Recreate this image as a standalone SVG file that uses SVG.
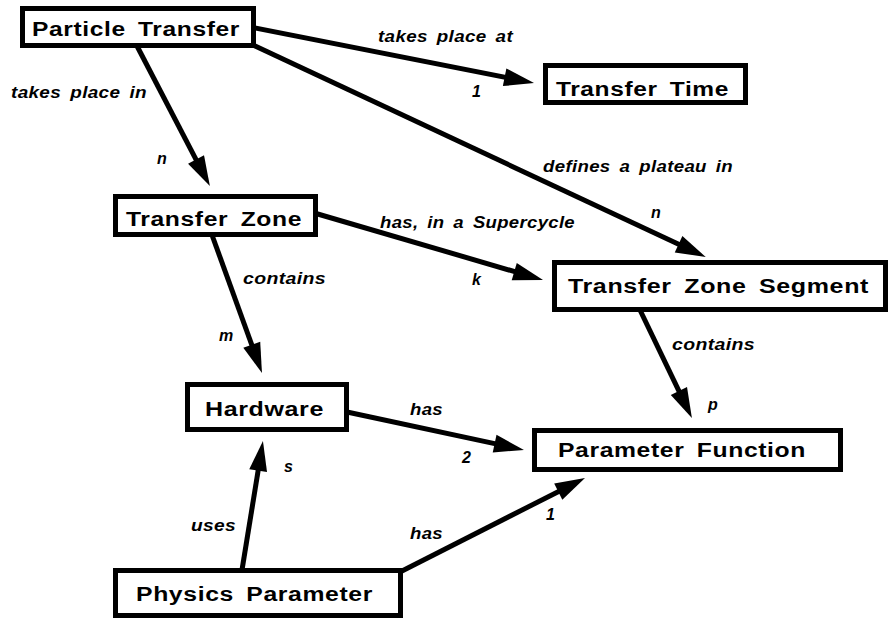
<svg xmlns="http://www.w3.org/2000/svg" width="889" height="619" viewBox="0 0 889 619">
  <defs>
    <style>
      .box { fill: #fff; stroke: #000; stroke-width: 5; }
      .name { font-family: "Liberation Sans", Arial, sans-serif; font-weight: bold; font-size: 20px; letter-spacing: 0.5px; word-spacing: 4px; fill: #000; }
      .edge { fill: none; stroke: #000; stroke-width: 5; marker-end: url(#head); }
      .lbl { font-family: "Liberation Sans", Arial, sans-serif; font-weight: bold; font-style: italic; font-size: 16px; letter-spacing: 0.3px; word-spacing: 3px; fill: #000; }
    </style>
    <!-- solid triangular head: 30px long, 18px wide at stroke-width 5 -->
    <marker id="head" markerUnits="strokeWidth" markerWidth="6" markerHeight="3.6" refX="1.2" refY="1.8" orient="auto" overflow="visible">
      <path d="M0,0 L6,1.8 L0,3.6 z" fill="#000"/>
    </marker>
  </defs>
  <rect width="889" height="619" fill="#fff"/>

  <g id="connectors">
    <!-- Particle Transfer -> Transfer Zone -->
    <line class="edge" x1="137" y1="46" x2="198.8" y2="164.8"/>
    <!-- Particle Transfer -> Transfer Time -->
    <line class="edge" x1="250" y1="27" x2="510.5" y2="78.4"/>
    <!-- Particle Transfer -> Transfer Zone Segment -->
    <line class="edge" x1="253" y1="45" x2="684" y2="246.8"/>
    <!-- Transfer Zone -> Transfer Zone Segment -->
    <line class="edge" x1="316" y1="213.5" x2="520" y2="273.2"/>
    <!-- Transfer Zone -> Hardware -->
    <line class="edge" x1="212" y1="235" x2="253.8" y2="350.4"/>
    <!-- Transfer Zone Segment -> Parameter Function -->
    <line class="edge" x1="640" y1="310" x2="681.5" y2="396.4"/>
    <!-- Hardware -> Parameter Function -->
    <line class="edge" x1="347" y1="412" x2="500.5" y2="444.9"/>
    <!-- Physics Parameter -> Hardware -->
    <line class="edge" x1="242" y1="570" x2="259.1" y2="464.7"/>
    <!-- Physics Parameter -> Parameter Function -->
    <line class="edge" x1="401" y1="571.5" x2="563.6" y2="488.9"/>

    <text class="lbl" x="11" y="98" textLength="136" lengthAdjust="spacingAndGlyphs">takes place in</text>
    <text class="lbl" x="157" y="164">n</text>
    <text class="lbl" x="378" y="42" textLength="135" lengthAdjust="spacingAndGlyphs">takes place at</text>
    <text class="lbl" x="472" y="97">1</text>
    <text class="lbl" x="543" y="172" textLength="190" lengthAdjust="spacingAndGlyphs">defines a plateau in</text>
    <text class="lbl" x="651" y="218">n</text>
    <text class="lbl" x="380" y="228" textLength="195" lengthAdjust="spacingAndGlyphs">has, in a Supercycle</text>
    <text class="lbl" x="472" y="285">k</text>
    <text class="lbl" x="243" y="284" textLength="83" lengthAdjust="spacingAndGlyphs">contains</text>
    <text class="lbl" x="219" y="341">m</text>
    <text class="lbl" x="672" y="350" textLength="83" lengthAdjust="spacingAndGlyphs">contains</text>
    <text class="lbl" x="708" y="410">p</text>
    <text class="lbl" x="410" y="415" textLength="33" lengthAdjust="spacingAndGlyphs">has</text>
    <text class="lbl" x="462" y="463">2</text>
    <text class="lbl" x="191" y="531" textLength="45" lengthAdjust="spacingAndGlyphs">uses</text>
    <text class="lbl" x="284" y="472">s</text>
    <text class="lbl" x="410" y="539" textLength="33" lengthAdjust="spacingAndGlyphs">has</text>
    <text class="lbl" x="546" y="520">1</text>
  </g>

  <g id="particle-transfer">
    <rect class="box" x="22.5" y="8.5" width="231" height="37"/>
    <text class="name" x="32" y="36" textLength="208" lengthAdjust="spacingAndGlyphs">Particle Transfer</text>
  </g>
  <g id="transfer-time">
    <rect class="box" x="545.5" y="65.5" width="200" height="37"/>
    <text class="name" x="556" y="95.5" textLength="173" lengthAdjust="spacingAndGlyphs">Transfer Time</text>
  </g>
  <g id="transfer-zone">
    <rect class="box" x="115.5" y="196.5" width="200" height="38"/>
    <text class="name" x="126" y="226" textLength="176" lengthAdjust="spacingAndGlyphs">Transfer Zone</text>
  </g>
  <g id="transfer-zone-segment">
    <rect class="box" x="554.5" y="262.5" width="331" height="47"/>
    <text class="name" x="568" y="293" textLength="301" lengthAdjust="spacingAndGlyphs">Transfer Zone Segment</text>
  </g>
  <g id="hardware">
    <rect class="box" x="187.5" y="384.5" width="159" height="45"/>
    <text class="name" x="205" y="416" textLength="119" lengthAdjust="spacingAndGlyphs">Hardware</text>
  </g>
  <g id="parameter-function">
    <rect class="box" x="534.5" y="430.5" width="306" height="39"/>
    <text class="name" x="558" y="457" textLength="248" lengthAdjust="spacingAndGlyphs">Parameter Function</text>
  </g>
  <g id="physics-parameter">
    <rect class="box" x="115.5" y="570.5" width="285" height="45"/>
    <text class="name" x="136" y="601" textLength="237" lengthAdjust="spacingAndGlyphs">Physics Parameter</text>
  </g>
</svg>
